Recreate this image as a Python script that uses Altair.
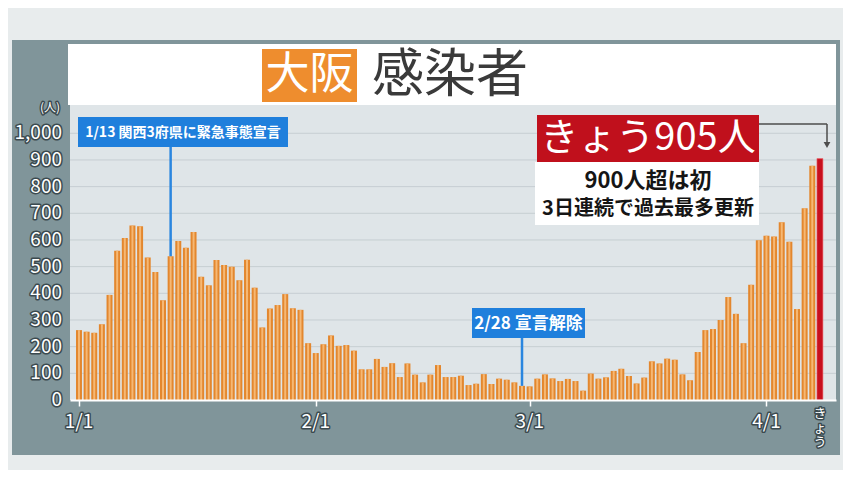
import altair as alt
import pandas as pd

# ---- data ----
jan = [262, 256, 252, 284, 394, 560, 607, 654, 651, 534, 480, 374, 539, 596, 571, 630,
       462, 430, 525, 506, 500, 449, 526, 421, 272, 343, 356, 397, 344, 338, 213]
feb = [176, 209, 242, 203, 206, 185, 115, 115, 154, 124, 138, 86, 137, 95, 66, 95,
       131, 86, 86, 91, 56, 61, 97, 60, 80, 76, 66, 53]
mar = [51, 80, 96, 81, 71, 79, 71, 35, 99, 80, 85, 109, 117, 90, 62, 84,
       145, 137, 155, 151, 96, 74, 180, 262, 266, 300, 386, 323, 213, 432, 599]
apr = [616, 613, 666, 593, 341, 719, 878, 905]
cases = jan + feb + mar + apr
day_index = list(range(len(cases)))

x_tick_days = [0, 31, 59, 90]
x_tick_labels = ["1/1", "2/1", "3/1", "4/1"]
y_ticks = [0, 100, 200, 300, 400, 500, 600, 700, 800, 900, 1000]
y_tick_labels = ["0", "100", "200", "300", "400", "500", "600", "700", "800", "900", "1,000"]

ann1_day, ann1_text = 12, "1/13 関西3府県に緊急事態宣言"
ann2_day, ann2_text = 58, "2/28 宣言解除"
today_text = "きょう905人"
sub1, sub2 = "900人超は初", "3日連続で過去最多更新"

FONT = "Noto Sans CJK JP"
W, H = 766, 295
XS = alt.Scale(domain=[-0.52, 98.45], nice=False, zero=False)
YS = alt.Scale(domain=[0, 1106], nice=False, zero=True)

df = pd.DataFrame({"d": day_index, "v": cases})
past = df.iloc[:-1]
today = df.iloc[[-1]]
one = pd.DataFrame({"k": [0]})


def rect(x, x2, y, y2, color):
    return alt.Chart(one).mark_rect(color=color).encode(
        x=alt.value(x), x2=alt.value(x2), y=alt.value(y), y2=alt.value(y2))


def label(x, y, text, size, color="white", **kw):
    return alt.Chart(one).mark_text(font=FONT, fontSize=size, color=color,
                                    baseline="middle", **kw).encode(
        x=alt.value(x), y=alt.value(y), text=alt.value(text))


panel = rect(-58, 770, -65, 350, "#80959a")
band = rect(-2, W, -61, 0, "#ffffff")
plotbg = rect(0, W, 0, H, "#dfe5e8")

grid = alt.Chart(pd.DataFrame({"t": y_ticks[1:]})).mark_rule(
    color="#c6ced2", strokeWidth=1).encode(
    y=alt.Y("t:Q", scale=YS, axis=None), x=alt.value(0), x2=alt.value(W))

bars = alt.Chart(past).mark_bar(size=6, color="#e3872e").encode(
    x=alt.X("d:Q", scale=XS, axis=alt.Axis(values=x_tick_days, labels=False, title=None,
                                           tickColor="white", tickSize=6, tickWidth=1.5,
                                           domainColor="white", domainWidth=2, grid=False,
                                           zindex=1)),
    y=alt.Y("v:Q", scale=YS, axis=alt.Axis(values=y_ticks, labels=False, title=None,
                                           tickColor="white", tickSize=6, domain=False,
                                           grid=False, zindex=1)))
hl = alt.Chart(past).mark_bar(size=2, color="#f6b874").encode(
    x=alt.X("d:Q", scale=XS), y=alt.Y("v:Q", scale=YS))
redbar = alt.Chart(today).mark_bar(size=6, color="#c8101e", stroke="#ee6b70",
                                   strokeWidth=0.6).encode(
    x=alt.X("d:Q", scale=XS), y=alt.Y("v:Q", scale=YS))

# annotation 1
a1 = df[df.d == ann1_day]
a1_line = alt.Chart(a1).mark_rule(color="#2a86df", strokeWidth=2.5).encode(
    x=alt.X("d:Q", scale=XS), y=alt.Y("v:Q", scale=YS), y2=alt.value(42))
a1_box = rect(8, 218, 12, 42, "#1f7fdc")
a1_txt = label(113, 27.5, ann1_text, 14, fontWeight="bold")

# annotation 2
a2 = df[df.d == ann2_day]
a2_line = alt.Chart(a2).mark_rule(color="#2a86df", strokeWidth=2.5).encode(
    x=alt.X("d:Q", scale=XS), y=alt.Y("v:Q", scale=YS), y2=alt.value(233))
a2_box = rect(402, 515, 203, 233, "#1f7fdc")
a2_txt = label(458.5, 218.5, ann2_text, 17, fontWeight="bold")

# today annotation
red_box = rect(467, 689, 10, 57, "#c0101c")
white_box = rect(465, 689, 57, 120, "#ffffff")
red_txt = label(578, 34, today_text, 38)
s1 = label(578, 76, sub1, 22, color="#151515", fontWeight="bold")
s2 = label(578, 104, sub2, 20, color="#151515", fontWeight="bold")
conn_h = alt.Chart(one).mark_rule(color="#4d4d4d", strokeWidth=1.5).encode(
    x=alt.value(689), x2=alt.value(757), y=alt.value(19))
conn_v = alt.Chart(today).mark_rule(color="#4d4d4d", strokeWidth=1.5).encode(
    x=alt.value(757), y=alt.value(19), y2=alt.value(38))
arrow = alt.Chart(today).mark_point(shape="triangle-down", filled=True, color="#4d4d4d",
                                    size=45, opacity=1).encode(
    x=alt.value(757), y=alt.value(40))

# title
tbox = rect(192, 287, -56, -3, "#ee8d2e")
t1 = label(239.5, -29.5, "大阪", 44)
t2 = label(380, -29, "感染者", 52, color="#3a3a3a")

# axis labels with outline
ydf = pd.DataFrame({"t": y_ticks, "lab": y_tick_labels})
xdf = pd.DataFrame({"d": x_tick_days, "lab": x_tick_labels})


def outlined(chart_fn):
    return [chart_fn(dict(color="#3b4a4f", stroke="#3b4a4f", strokeWidth=3,
                          strokeJoin="round")),
            chart_fn(dict(color="white"))]


ylabs = outlined(lambda st: alt.Chart(ydf).mark_text(
    font=FONT, fontSize=19, align="right", baseline="middle", **st).encode(
    x=alt.value(-8), y=alt.Y("t:Q", scale=YS), text="lab:N"))
xlabs = outlined(lambda st: alt.Chart(xdf).mark_text(
    font=FONT, fontSize=19, align="center", baseline="middle", **st).encode(
    x=alt.X("d:Q", scale=XS), y=alt.value(317), text="lab:N"))
unit = outlined(lambda st: alt.Chart(one).mark_text(
    font=FONT, fontSize=12, align="center", baseline="middle", **st).encode(
    x=alt.value(-20), y=alt.value(3), text=alt.value("(人)")))
kyou = outlined(lambda st: alt.Chart(today).mark_text(
    font=FONT, fontSize=13, align="center", baseline="top", lineBreak="\n",
    lineHeight=14, **st).encode(
    x=alt.X("d:Q", scale=XS), y=alt.value(303), text=alt.value("き\nょ\nう")))

chart = alt.layer(
    panel, band, plotbg, grid, bars, hl, redbar,
    a1_line, a1_box, a1_txt, a2_line, a2_box, a2_txt,
    conn_h, conn_v, arrow, red_box, white_box, red_txt, s1, s2,
    tbox, t1, t2, *ylabs, *xlabs, *unit, *kyou
).properties(
    width=W, height=H,
    autosize=alt.AutoSizeParams(type="none"),
    padding={"left": 62, "top": 97, "right": 7, "bottom": 70},
    background="#e8eced",
).configure_view(strokeWidth=0)

chart.save("out.html", embed_options={"renderer": "svg", "actions": False})
